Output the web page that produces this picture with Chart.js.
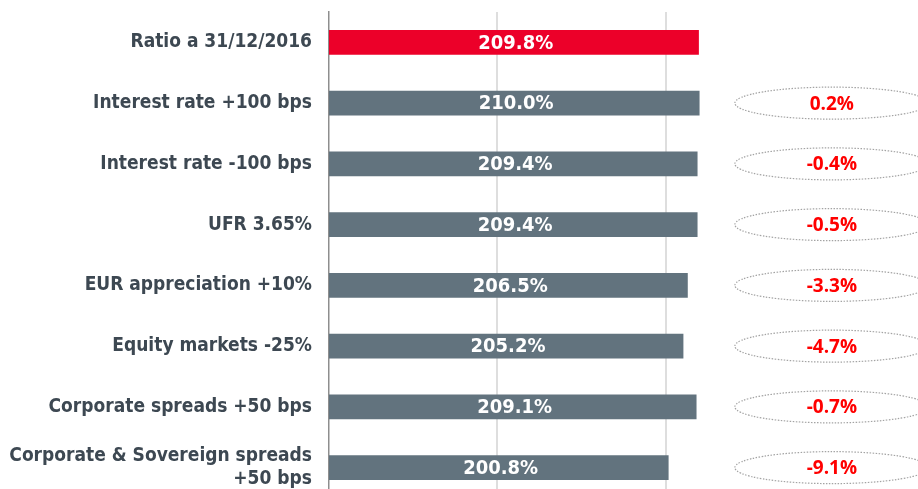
<!DOCTYPE html>
<html>
<head>
<meta charset="utf-8">
<script src="https://cdn.jsdelivr.net/npm/chart.js@4.4.1/dist/chart.umd.min.js"></script>
<style>
  html, body { margin: 0; padding: 0; background: #fff; overflow: hidden; }
  #wrap { width: 918px; height: 498px; position: relative; }
</style>
</head>
<body>
<div id="wrap"><canvas id="myChart"></canvas></div>
<script>
const categories = [
    'Ratio a 31/12/2016',
    'Interest rate +100 bps',
    'Interest rate -100 bps',
    'UFR 3.65%',
    'EUR appreciation +10%',
    'Equity markets -25%',
    'Corporate spreads +50 bps',
    ['Corporate & Sovereign spreads', '+50 bps']
];
const ratios = [209.8, 210.0, 209.4, 209.4, 206.5, 205.2, 209.1, 200.8];
// change vs. base ratio (first row has none)
const deltas = [null, 0.2, -0.4, -0.5, -3.3, -4.7, -0.7, -9.1];
const gridValues = [150, 200];

const RED = '#ec0029';
const GREY = '#62737e';

// white value labels in the bar middle + dotted ellipses with the delta
const labelsPlugin = {
    id: 'labels',
    afterDatasetsDraw(chart) {
        const ctx = chart.ctx;
        const meta = chart.getDatasetMeta(0);
        const xScale = chart.scales.x;
        const left = chart.chartArea.left;
        ctx.save();
        meta.data.forEach((bar, i) => {
            ctx.font = 'bold 20px "DejaVu Sans Condensed", "DejaVu Sans", sans-serif';
            ctx.fillStyle = '#ffffff';
            ctx.textAlign = 'center';
            ctx.textBaseline = 'middle';
            ctx.fillText(ratios[i].toFixed(1) + '%', (bar.x + left) / 2 + 2, bar.y + 1);

            if (deltas[i] === null) return;
            const cx = xScale.getPixelForValue(250) - 2;
            ctx.beginPath();
            ctx.setLineDash([1.5, 1.5]);
            ctx.lineWidth = 1.2;
            ctx.strokeStyle = '#a3a3a3';
            ctx.ellipse(cx, bar.y, 97, 16, 0, 0, Math.PI * 2);
            ctx.stroke();
            ctx.setLineDash([]);
            ctx.font = 'bold 19px "Open Sans", Lato, sans-serif';
            ctx.fillStyle = '#ff0000';
            ctx.fillText(deltas[i].toFixed(1) + '%', cx, bar.y + 1);
        });
        ctx.restore();
    }
};

const ctx = document.getElementById('myChart').getContext('2d');
new Chart(ctx, {
    type: 'bar',
    data: {
        labels: categories,
        datasets: [{
            data: ratios,
            backgroundColor: ratios.map((v, i) => i === 0 ? RED : GREY),
            borderWidth: 0,
            barThickness: 24
        }]
    },
    options: {
        indexAxis: 'y',
        responsive: true,
        maintainAspectRatio: false,
        animation: false,
        layout: { padding: { top: 12, left: 0, right: 0, bottom: 0 } },
        plugins: {
            legend: { display: false },
            tooltip: { enabled: false }
        },
        scales: {
            x: {
                min: 100,
                max: 275,
                afterFit: scale => { scale.height = 0; scale.paddingLeft = 0; scale.paddingRight = 0; },
                ticks: { display: false, stepSize: 50 },
                border: { display: false },
                grid: {
                    drawTicks: false,
                    lineWidth: 2,
                    color: c => gridValues.includes(c.tick && c.tick.value) ? '#dedede' : 'rgba(0,0,0,0)'
                }
            },
            y: {
                afterFit: scale => { scale.width = 329; scale.paddingTop = 0; scale.paddingBottom = 0; },
                border: { display: true, color: '#8e8e8e', width: 1.5 },
                grid: { display: false, drawTicks: false },
                ticks: {
                    padding: 17,
                    color: '#3d4852',
                    font: { family: '"DejaVu Sans Condensed", "DejaVu Sans", sans-serif', size: 19, weight: 'bold', lineHeight: 1.25 }
                }
            }
        }
    },
    plugins: [labelsPlugin]
});
</script>
</body>
</html>
